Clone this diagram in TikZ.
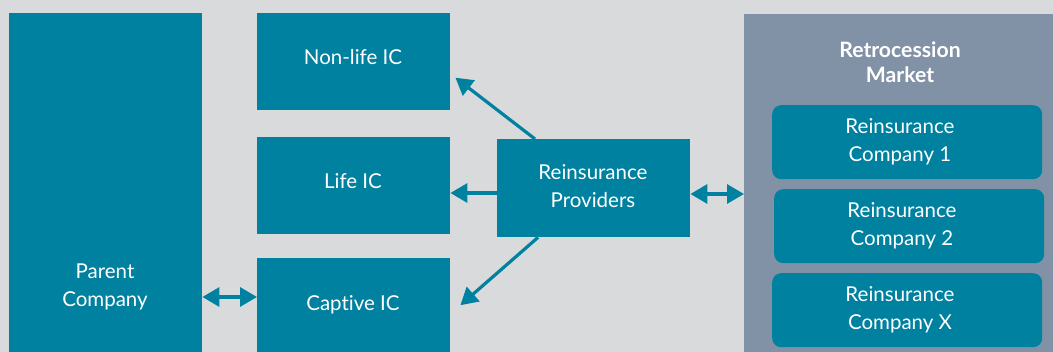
\documentclass[tikz,border=0pt]{standalone}
\usepackage{fontspec}
\setmainfont{Lato}[Ligatures={NoCommon}]
\usetikzlibrary{arrows.meta,calc}
\definecolor{bg}{HTML}{D9DADC}
\definecolor{teal}{HTML}{0081A0}
\definecolor{retro}{HTML}{8292A6}
\begin{document}
\begin{tikzpicture}[x=1pt,y=-1pt,
  box/.style={fill=teal,draw=none,inner sep=0pt,anchor=north west},
  rbox/.style={box,rounded corners=9pt},
  lbl/.style={text=white,align=center,font=\fontsize{20.5}{28}\selectfont,inner sep=0pt},
  arr/.style={draw=teal,line width=3.2pt,-{Triangle[length=17pt,width=19pt]}},
  darr/.style={draw=teal,line width=3.2pt,{Triangle[length=17pt,width=19pt]}-{Triangle[length=17pt,width=19pt]}}]
\fill[bg] (0,0) rectangle (1053,352);
\useasboundingbox (0,0) rectangle (1053,352);
\node[box,minimum width=193pt,minimum height=339pt] (parent) at (9,13) {};
\node[lbl] (parenttxt) at (105,287) {Parent\\Company};
\node[box,minimum width=193pt,minimum height=97pt] (nonlife) at (257,13) {};
\node[lbl] (nonlifetxt) at (353,57) {Non-life IC};
\node[box,minimum width=193pt,minimum height=97pt] (life) at (257,137) {};
\node[lbl] (lifetxt) at (353,181.5) {Life IC};
\node[box,minimum width=193pt,minimum height=94pt] (captive) at (257,258) {};
\node[lbl] (captivetxt) at (353,305) {Captive IC};
\node[box,minimum width=193pt,minimum height=98pt] (rp) at (497,139) {};
\node[lbl] (rptxt) at (593,186) {Reinsurance\\Providers};
\node[box,fill=retro,minimum width=309pt,minimum height=338pt] (retro) at (744,14) {};
\node[lbl,font=\fontsize{21.2}{25}\selectfont\bfseries] (retrotitle) at (900,62) {Retrocession\\Market};
\node[rbox,minimum width=270pt,minimum height=74pt] (rc1) at (772,105) {};
\node[lbl] (rc1txt) at (900,142) {Reinsurance\\Company 1};
\node[rbox,minimum width=270pt,minimum height=74pt] (rc2) at (774,189) {};
\node[lbl] (rc2txt) at (902,226) {Reinsurance\\Company 2};
\node[rbox,minimum width=270pt,minimum height=74pt] (rcx) at (772,273) {};
\node[lbl] (rcxtxt) at (900,310) {Reinsurance\\Company X};
\coordinate (t1s) at ($(rp.north west)+(38,0)$);
\coordinate (t1e) at ($(nonlife.east)+(5,16)$);
\coordinate (t3s) at ($(rp.south west)+(41,0)$);
\coordinate (t3e) at ($(captive.east)+(10,0)$);
\draw[arr] (t1s) -- (t1e);
\draw[arr] (rp.west |- 0,193) -- (life.east |- 0,193);
\draw[arr] (t3s) -- (t3e);
\draw[darr] (parent.east |- 0,297) -- (captive.west |- 0,297);
\draw[darr] (rp.east |- 0,194) -- (retro.west |- 0,194);
\end{tikzpicture}
\end{document}
